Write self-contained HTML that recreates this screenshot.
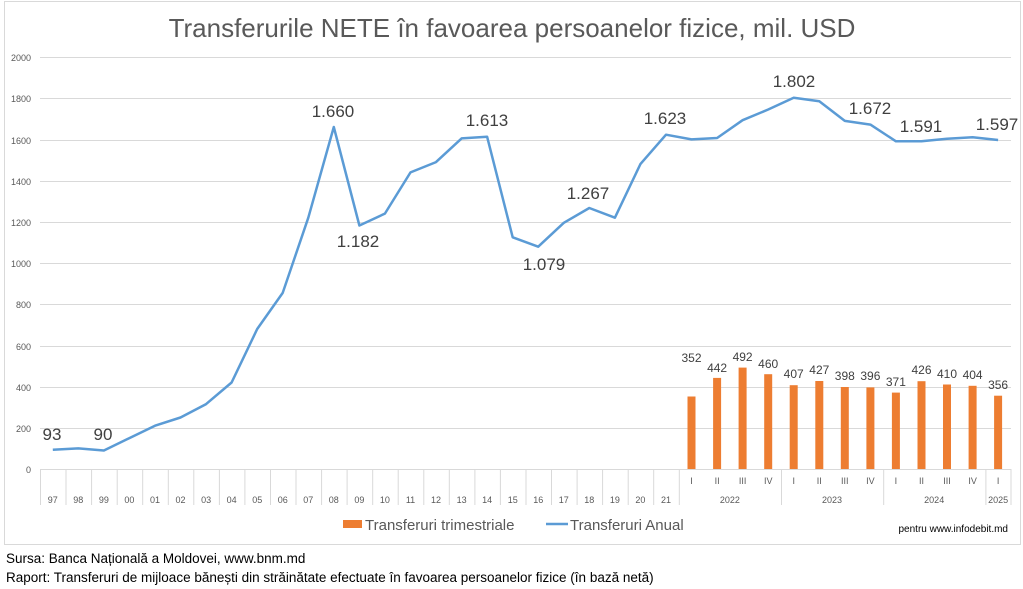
<!DOCTYPE html>
<html><head><meta charset="utf-8"><style>
body{margin:0;background:#fff}
svg{display:block;font-family:"Liberation Sans",sans-serif}
</style></head><body>
<svg width="1023" height="589" viewBox="0 0 1023 589" xmlns="http://www.w3.org/2000/svg">
<rect x="4.5" y="1.5" width="1016" height="543" fill="#fff" stroke="#d9d9d9"/>
<text x="512" y="37" text-anchor="middle" font-size="26" fill="#595959">Transferurile NETE în favoarea persoanelor fizice, mil. USD</text>
<g stroke="#d9d9d9" stroke-width="1">
<line x1="40" x2="1011" y1="57.5" y2="57.5"/><line x1="40" x2="1011" y1="98.5" y2="98.5"/>
<line x1="40" x2="1011" y1="140.5" y2="140.5"/><line x1="40" x2="1011" y1="181.5" y2="181.5"/>
<line x1="40" x2="1011" y1="222.5" y2="222.5"/><line x1="40" x2="1011" y1="263.5" y2="263.5"/>
<line x1="40" x2="1011" y1="304.5" y2="304.5"/><line x1="40" x2="1011" y1="346.5" y2="346.5"/>
<line x1="40" x2="1011" y1="387.5" y2="387.5"/><line x1="40" x2="1011" y1="428.5" y2="428.5"/>
<line x1="40" x2="1011" y1="469.5" y2="469.5"/>
</g>
<g font-size="9" fill="#595959" text-anchor="end">
<text x="31" y="61">2000</text><text x="31" y="102">1800</text><text x="31" y="144">1600</text>
<text x="31" y="185">1400</text><text x="31" y="226">1200</text><text x="31" y="267">1000</text>
<text x="31" y="308">800</text><text x="31" y="350">600</text><text x="31" y="391">400</text>
<text x="31" y="432">200</text><text x="31" y="473">0</text>
</g>
<g stroke="#d9d9d9">
<path d="M40.5 469V505M66 469V505M91.6 469V505M117.2 469V505M142.7 469V505M168.3 469V505M193.8 469V505M219.4 469V505M244.9 469V505M270.5 469V505M296 469V505M321.6 469V505M347.1 469V505M372.7 469V505M398.2 469V505M423.8 469V505M449.3 469V505M474.9 469V505M500.4 469V505M526 469V505M551.5 469V505M577.1 469V505M602.6 469V505M628.2 469V505M653.7 469V505M679.3 469V505M781.5 469V505M883.7 469V505M985.9 469V505M1011 469V505"/>
</g>
<g font-size="9" fill="#595959" text-anchor="middle">
<text x="52.8" y="503">97</text><text x="78.3" y="503">98</text><text x="103.9" y="503">99</text><text x="129.4" y="503">00</text>
<text x="155" y="503">01</text><text x="180.5" y="503">02</text><text x="206.1" y="503">03</text><text x="231.6" y="503">04</text>
<text x="257.2" y="503">05</text><text x="282.7" y="503">06</text><text x="308.3" y="503">07</text><text x="333.8" y="503">08</text>
<text x="359.4" y="503">09</text><text x="384.9" y="503">10</text><text x="410.5" y="503">11</text><text x="436" y="503">12</text>
<text x="461.6" y="503">13</text><text x="487.1" y="503">14</text><text x="512.7" y="503">15</text><text x="538.2" y="503">16</text>
<text x="563.8" y="503">17</text><text x="589.3" y="503">18</text><text x="614.9" y="503">19</text><text x="640.4" y="503">20</text>
<text x="666" y="503">21</text>
<text x="691.5" y="484">I</text><text x="717.1" y="484">II</text><text x="742.6" y="484">III</text><text x="768.2" y="484">IV</text>
<text x="793.7" y="484">I</text><text x="819.3" y="484">II</text><text x="844.8" y="484">III</text><text x="870.4" y="484">IV</text>
<text x="895.9" y="484">I</text><text x="921.5" y="484">II</text><text x="947" y="484">III</text><text x="972.6" y="484">IV</text>
<text x="998.1" y="484">I</text>
<text x="729.9" y="503">2022</text><text x="832" y="503">2023</text><text x="934.2" y="503">2024</text><text x="998.1" y="503">2025</text>
</g>
<g fill="#ed7d31">
<rect x="687.5" y="396.5" width="8" height="72.5"/><rect x="713.1" y="377.9" width="8" height="91.1"/>
<rect x="738.6" y="367.6" width="8" height="101.4"/><rect x="764.2" y="374.2" width="8" height="94.8"/>
<rect x="789.7" y="385.2" width="8" height="83.8"/><rect x="815.3" y="381" width="8" height="88"/>
<rect x="840.8" y="387" width="8" height="82"/><rect x="866.4" y="387.4" width="8" height="81.6"/>
<rect x="891.9" y="392.6" width="8" height="76.4"/><rect x="917.5" y="381.2" width="8" height="87.8"/>
<rect x="943" y="384.5" width="8" height="84.5"/><rect x="968.6" y="385.8" width="8" height="83.2"/>
<rect x="994.1" y="395.7" width="8" height="73.3"/>
</g>
<g font-size="12" fill="#404040" text-anchor="middle">
<text x="691.5" y="362">352</text><text x="717.1" y="372">442</text><text x="742.6" y="361">492</text>
<text x="768.2" y="368">460</text><text x="793.7" y="378">407</text><text x="819.3" y="374">427</text>
<text x="844.8" y="380">398</text><text x="870.4" y="380">396</text><text x="895.9" y="386">371</text>
<text x="921.5" y="374">426</text><text x="947" y="378">410</text><text x="972.6" y="379">404</text>
<text x="998.1" y="389">356</text>
</g>
<polyline fill="none" stroke="#5b9bd5" stroke-width="2.5" stroke-linejoin="round" points="52.8,449.8 78.3,448.4 103.9,450.5 129.4,438.1 155,425.7 180.5,417.5 206.1,404.1 231.6,382.5 257.2,329 282.7,292.9 308.3,217.7 333.8,127 359.4,225.5 384.9,213.6 410.5,172.4 436,162.1 461.6,138.4 487.1,136.7 512.7,237.3 538.2,246.7 563.8,222.8 589.3,208 614.9,217.7 640.4,164.1 666,134.7 691.5,139.4 717.1,138 742.6,120.2 768.2,109.5 793.7,97.8 819.3,101.3 844.8,120.9 870.4,124.6 895.9,141.3 921.5,141.3 947,138.8 972.6,137.3 998.1,140"/>
<g font-size="17" fill="#404040" text-anchor="middle">
<text x="52" y="440">93</text><text x="103" y="440">90</text><text x="333" y="117">1.660</text>
<text x="358" y="247">1.182</text><text x="487" y="126">1.613</text><text x="544" y="270">1.079</text>
<text x="588" y="199">1.267</text><text x="665" y="124">1.623</text><text x="794" y="87">1.802</text>
<text x="870" y="114">1.672</text><text x="921" y="132">1.591</text><text x="997" y="130">1.597</text>
</g>
<rect x="343" y="520" width="19" height="8" fill="#ed7d31"/>
<text x="365" y="530" font-size="15" fill="#595959">Transferuri trimestriale</text>
<line x1="546" x2="568" y1="524" y2="524" stroke="#5b9bd5" stroke-width="2.5"/>
<text x="570" y="530" font-size="15" fill="#595959">Transferuri Anual</text>
<text x="1008" y="532" font-size="10" fill="#000" text-anchor="end">pentru www.infodebit.md</text>
<text x="6" y="563" font-size="13.5" fill="#000">Sursa: Banca Națională a Moldovei, www.bnm.md</text>
<text x="6" y="582" font-size="13.5" fill="#000">Raport: Transferuri de mijloace bănești din străinătate efectuate în favoarea persoanelor fizice (în bază netă)</text>
</svg>
</body></html>
